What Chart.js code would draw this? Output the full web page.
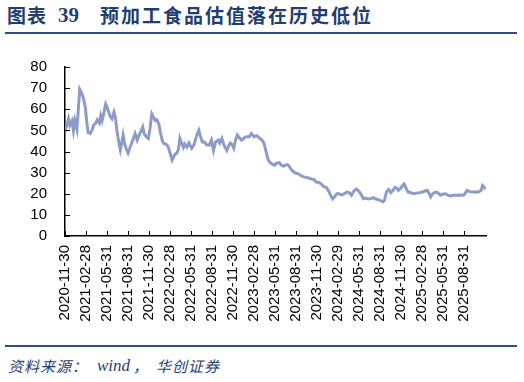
<!DOCTYPE html>
<html><head><meta charset="utf-8">
<script src="https://cdn.jsdelivr.net/npm/chart.js@4/dist/chart.umd.min.js"></script>
<style>
html,body{margin:0;padding:0;background:#fff;width:524px;height:382px;overflow:hidden;position:relative;}
.t{position:absolute;white-space:nowrap;color:#1f3e72;}
#t1{left:7px;top:3px;font:bold 19px "Noto Sans CJK SC";letter-spacing:1px;line-height:24px;}
#t2{left:58px;top:3px;font:bold 21px "Liberation Serif";line-height:24px;}
#t3{left:100px;top:3px;font:bold 19px "Noto Sans CJK SC";letter-spacing:2px;line-height:24px;}
#line1{position:absolute;left:5px;top:32px;width:512px;height:2px;background:#2b4f85;}
#line2{position:absolute;left:5px;top:345px;width:512px;height:2px;background:#2b4f85;}
.f{position:absolute;top:356px;font-style:italic;font-size:15px;line-height:20px;color:#1f3e72;white-space:nowrap;}
#f1{left:8px;font-family:"Noto Sans CJK SC";letter-spacing:1px;}
#f2{left:97px;font-family:"Liberation Serif";font-size:17px;}
#f3{left:133px;font-family:"Noto Sans CJK SC";}
#f4{left:156px;font-family:"Noto Sans CJK SC";letter-spacing:1px;}
#wrap{position:absolute;left:0;top:40px;width:524px;height:300px;}
</style></head>
<body>
<div class="t" id="t1">图表</div>
<div class="t" id="t2">39</div>
<div class="t" id="t3">预加工食品估值落在历史低位</div>
<div id="line1"></div>
<div id="wrap"><canvas id="c" width="524" height="300"></canvas></div>
<div id="line2"></div>
<div class="f" id="f1">资料来源：</div>
<div class="f" id="f2">wind</div>
<div class="f" id="f3">，</div>
<div class="f" id="f4">华创证券</div>
<script>
// tick labels (quarter ends) and their positions in months since 2020-11-30
const tickLabels = ['2020-11-30','2021-02-28','2021-05-31','2021-08-31','2021-11-30','2022-02-28','2022-05-31','2022-08-31','2022-11-30','2023-02-28','2023-05-31','2023-08-31','2023-11-30','2024-02-29','2024-05-31','2024-08-31','2024-11-30','2025-02-28','2025-05-31','2025-08-31'];
const tickMonths = [0,3,6,9,12,15,18,21,24,27,30,33,36,39,42,45,48,51,54,57];

// series: months since 2020-11-30, and PE values
const months = [0,0.3,0.5,0.7,1.0,1.2,1.4,1.7,1.9,2.1,2.4,2.6,2.9,3.1,3.3,3.6,3.9,4.1,4.4,4.6,4.9,5.1,5.3,5.6,5.8,6.0,6.2,6.4,6.7,7.0,7.2,7.4,7.6,7.9,8.1,8.3,8.5,8.7,9.0,9.3,9.6,9.8,10.0,10.3,10.6,10.9,11.1,11.3,11.6,11.9,12.1,12.4,12.6,12.9,13.1,13.4,13.6,13.9,14.1,14.4,14.7,15.0,15.3,15.5,15.7,16.0,16.2,16.4,16.6,16.9,17.1,17.4,17.7,18.1,18.4,18.6,18.9,19.1,19.3,19.6,19.9,20.2,20.6,20.9,21.2,21.5,21.9,22.1,22.4,22.7,23.1,23.4,23.6,23.9,24.1,24.3,24.6,24.9,25.2,25.6,25.9,26.3,26.6,27.0,27.4,27.7,28.1,28.4,28.7,29.0,29.3,29.6,29.9,30.2,30.6,30.9,31.2,31.6,31.9,32.3,32.6,33.0,33.4,33.7,34.1,34.4,34.8,35.1,35.5,35.9,36.2,36.6,36.9,37.3,37.6,37.9,38.2,38.5,38.8,39.1,39.5,39.9,40.2,40.6,40.9,41.3,41.6,42.0,42.3,42.6,42.9,43.3,43.6,44.0,44.4,44.7,45.0,45.4,45.6,45.9,46.2,46.5,46.8,47.1,47.4,47.6,47.9,48.2,48.4,48.7,49.0,49.4,49.7,50.1,50.6,51.0,51.4,51.7,52.0,52.2,52.5,52.9,53.2,53.6,53.9,54.3,54.6,55.0,55.4,55.9,56.4,56.9,57.2,57.4,57.8,58.1,58.6,59.0,59.4,59.6,59.9,60.1];
const peValues = [49.3,53,55.5,52.4,54.5,50,54.7,50.5,60,69.4,67.5,65.5,61,54,49,48.5,50.5,52.5,53.5,55,53.5,57,54.7,59,62.4,61,59,57,55.5,58.6,56,50,46,40.8,44,47.8,44,41.6,39.3,42,44.7,46.5,48.5,45.4,48,50,51.6,48.5,47,46.2,50,57.8,56.5,54.7,55,53,49.3,45,43.8,43.5,42.5,39.3,36,37.5,38.5,39.5,41,46.2,44.5,42,43.5,42,44,41.5,43,45.4,48.5,50,47.5,44.5,44.5,43.2,43,45.4,40.5,44.5,45.4,44,46.2,43,40.5,43,44,43,41.6,45,47.8,46.5,45.4,46.5,47,47,48.5,47,47.5,46.5,45.5,44,40,36,34.7,34,33.5,34.5,34.7,33.5,33.1,33.8,33.5,31.5,30.5,29.7,29.3,28.5,28,27.7,27.5,27,26.9,25.5,25.5,24.5,23.5,23,21.5,19.5,17.5,18.5,20,20,19.5,20,20.8,20.5,19.3,21.5,22.3,21,19.5,17.7,18,17.5,17.7,18.2,17.5,17.2,16.9,16.2,16.8,21,22,20.5,21.5,23,22.5,21.6,22.5,24,24.6,22.5,20.8,20.5,20,20.3,20.5,20.8,21.3,21.6,20,18.5,20,20.8,20.5,19.3,19.8,20,19.5,19,19.3,19.3,19.4,19.3,20.5,21.6,21,20.8,20.8,20.8,21.5,23.9,22.8,22.3];

const innerTicks = {
  id:'innerTicks',
  afterDraw(chart){
    const {ctx, chartArea:a, scales:{x,y}} = chart;
    ctx.save();
    ctx.strokeStyle='#000'; ctx.lineWidth=1;
    ctx.beginPath();
    y.ticks.forEach(t=>{const py=Math.round(y.getPixelForValue(t.value))+0.5; ctx.moveTo(a.left,py); ctx.lineTo(a.left+5,py);});
    x.ticks.forEach(t=>{const px=Math.round(x.getPixelForValue(t.value))+0.5; ctx.moveTo(px,a.bottom); ctx.lineTo(px,a.bottom-5);});
    ctx.stroke();
    ctx.restore();
  }
};

new Chart(document.getElementById('c'), {
  type:'line',
  data:{datasets:[{
    data: months.map((m,i)=>({x:m,y:peValues[i]})),
    borderColor:'#8d9bc8', borderWidth:3, pointRadius:0, tension:0, fill:false
  }]},
  options:{
    responsive:false, animation:false,
    layout:{padding:{top:19,right:38,left:0,bottom:0}},
    plugins:{legend:{display:false}, tooltip:{enabled:false}},
    scales:{
      x:{
        type:'linear', min:0, max:60.1,
        afterBuildTicks:s=>{s.ticks = tickMonths.map(v=>({value:v}));},
        afterFit:s=>{s.height=104;},
        ticks:{autoSkip:false, maxRotation:90, minRotation:90, padding:9, color:'#000',
          font:{family:'Liberation Sans', size:15},
          callback:(v,i)=>tickLabels[i]},
        grid:{display:true, drawOnChartArea:false, drawTicks:false},
        border:{display:true, color:'#000', width:1.5}
      },
      y:{
        min:0, max:80,
        afterFit:s=>{s.width=65;},
        ticks:{stepSize:10, padding:18, color:'#000', font:{family:'Liberation Sans', size:15}},
        grid:{display:true, drawOnChartArea:false, drawTicks:false},
        border:{display:true, color:'#000', width:1.5}
      }
    }
  },
  plugins:[innerTicks]
});
</script>
</body></html>
